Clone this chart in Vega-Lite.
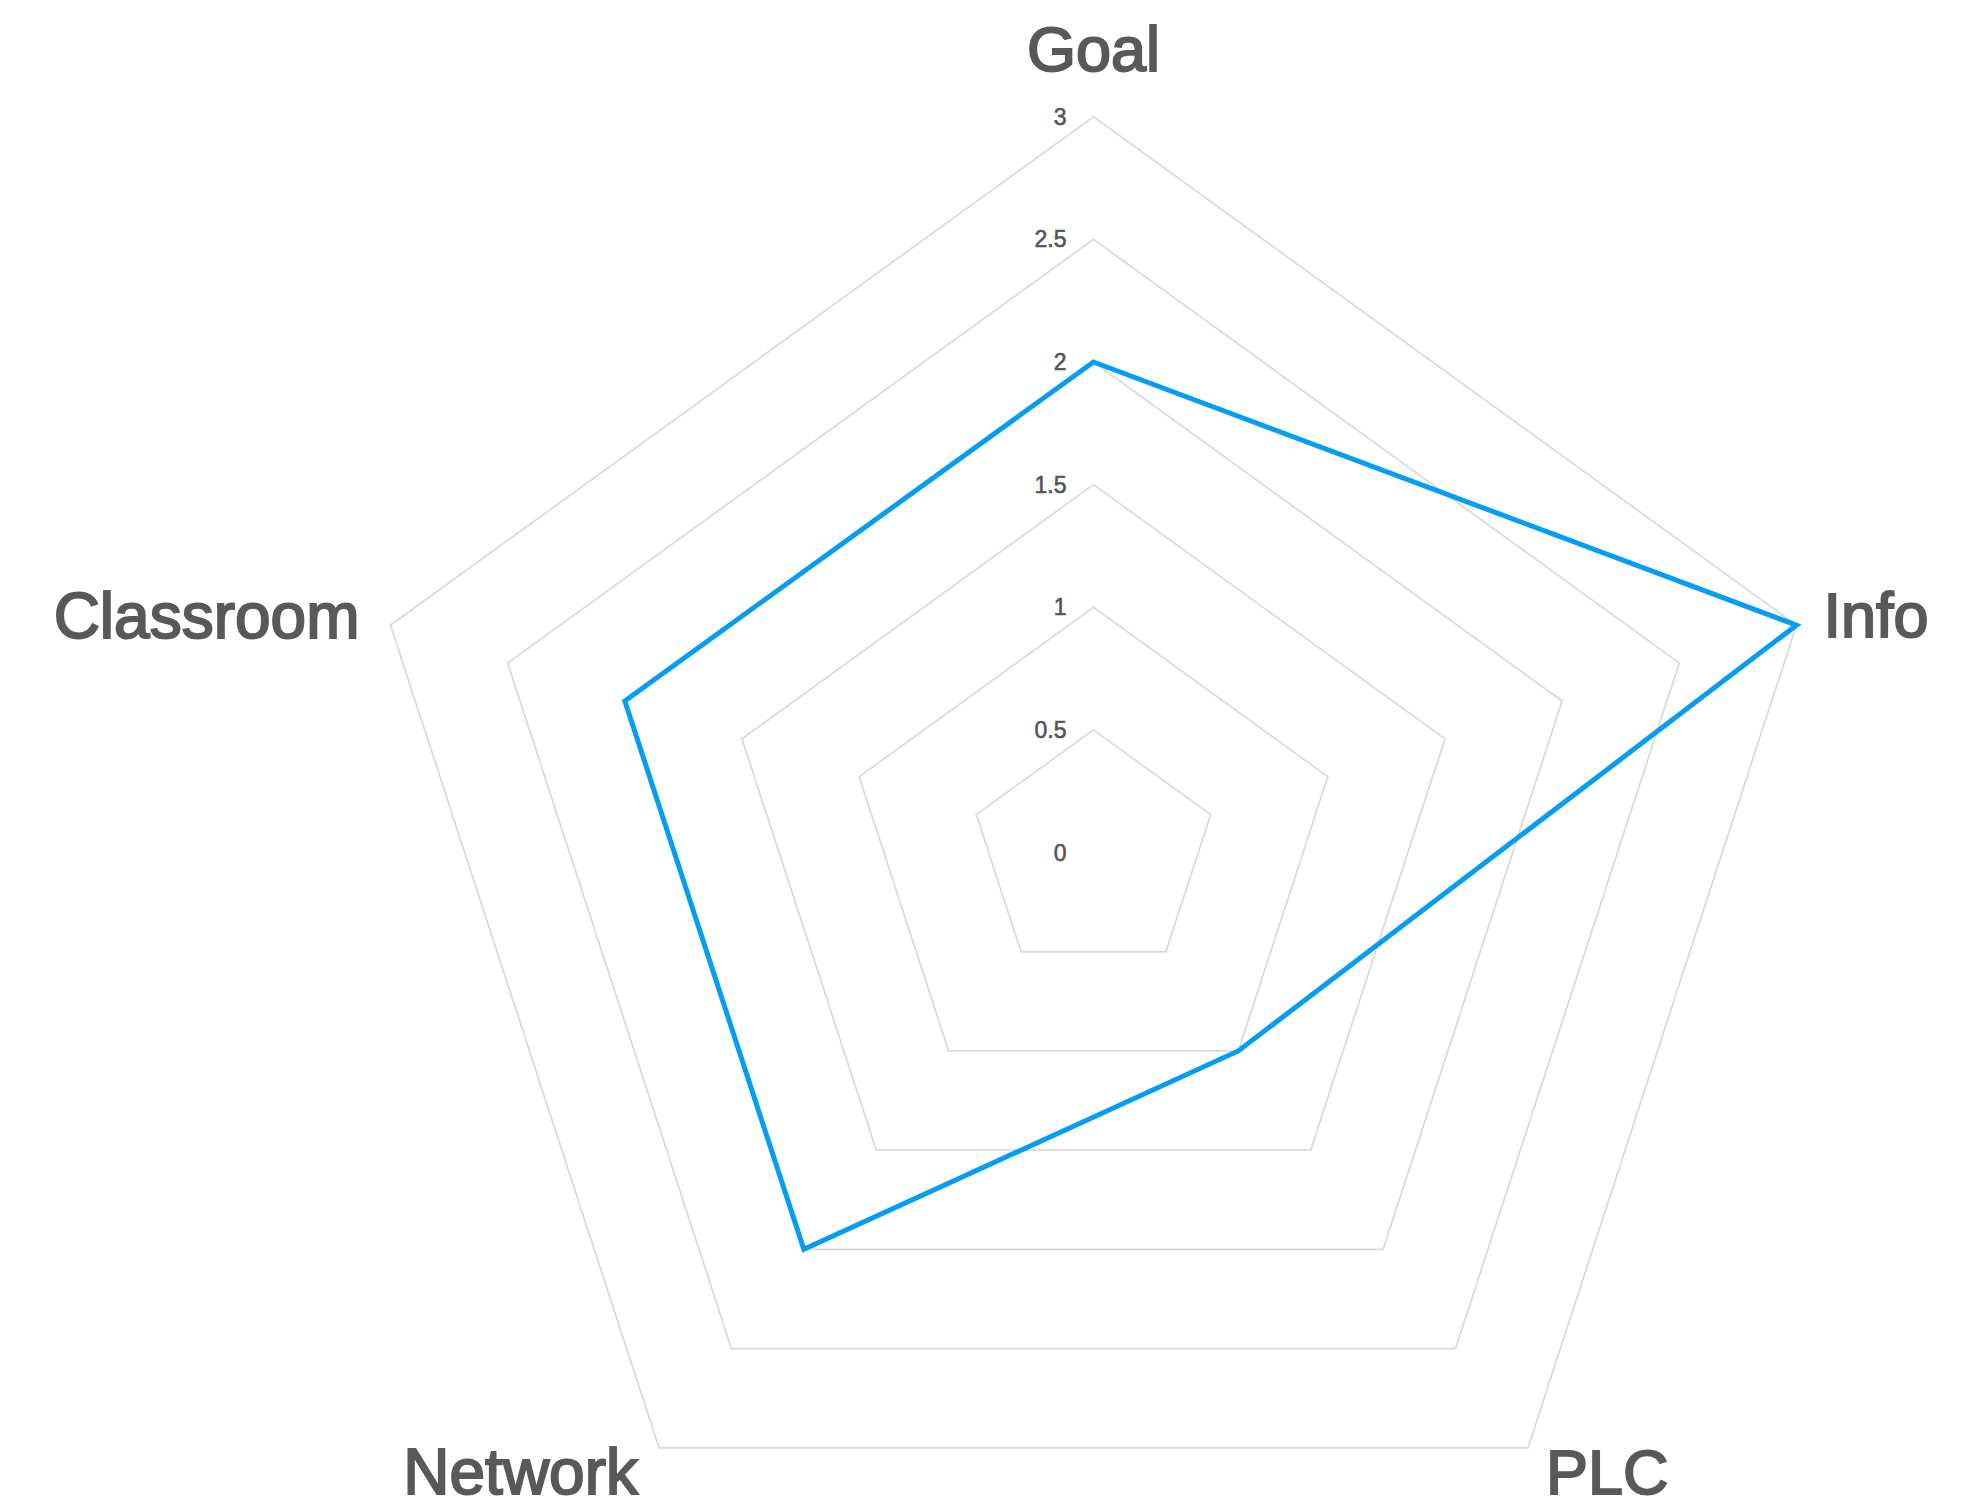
{
  "$schema": "https://vega.github.io/schema/vega-lite/v6.json",
  "width": 1962,
  "height": 1507,
  "autosize": {"type": "fit", "contains": "padding"},
  "padding": 0,
  "background": "white",
  "config": {"view": {"stroke": null}, "font": "Liberation Sans"},
  "datasets": {
    "scores": [
      {"axis": "Goal", "idx": 0, "value": 2},
      {"axis": "Info", "idx": 1, "value": 3},
      {"axis": "PLC", "idx": 2, "value": 1},
      {"axis": "Network", "idx": 3, "value": 2},
      {"axis": "Classroom", "idx": 4, "value": 2}
    ],
    "grid": [
      {"level": 0.5, "idx": 0}, {"level": 0.5, "idx": 1}, {"level": 0.5, "idx": 2}, {"level": 0.5, "idx": 3}, {"level": 0.5, "idx": 4},
      {"level": 1, "idx": 0}, {"level": 1, "idx": 1}, {"level": 1, "idx": 2}, {"level": 1, "idx": 3}, {"level": 1, "idx": 4},
      {"level": 1.5, "idx": 0}, {"level": 1.5, "idx": 1}, {"level": 1.5, "idx": 2}, {"level": 1.5, "idx": 3}, {"level": 1.5, "idx": 4},
      {"level": 2, "idx": 0}, {"level": 2, "idx": 1}, {"level": 2, "idx": 2}, {"level": 2, "idx": 3}, {"level": 2, "idx": 4},
      {"level": 2.5, "idx": 0}, {"level": 2.5, "idx": 1}, {"level": 2.5, "idx": 2}, {"level": 2.5, "idx": 3}, {"level": 2.5, "idx": 4},
      {"level": 3, "idx": 0}, {"level": 3, "idx": 1}, {"level": 3, "idx": 2}, {"level": 3, "idx": 3}, {"level": 3, "idx": 4}
    ],
    "ticks": [
      {"tick": 0, "label": "0"},
      {"tick": 0.5, "label": "0.5"},
      {"tick": 1, "label": "1"},
      {"tick": 1.5, "label": "1.5"},
      {"tick": 2, "label": "2"},
      {"tick": 2.5, "label": "2.5"},
      {"tick": 3, "label": "3"}
    ]
  },
  "encoding": {
    "x": {"field": "x", "type": "quantitative", "scale": {"domain": [-4.438, 3.525], "nice": false, "zero": false}, "axis": null},
    "y": {"field": "y", "type": "quantitative", "scale": {"domain": [-2.640, 3.476], "nice": false, "zero": false}, "axis": null}
  },
  "layer": [
    {
      "data": {"name": "grid"},
      "transform": [
        {"calculate": "datum.level * sin(datum.idx * 2 * PI / 5)", "as": "x"},
        {"calculate": "datum.level * cos(datum.idx * 2 * PI / 5)", "as": "y"}
      ],
      "mark": {"type": "line", "interpolate": "linear-closed", "stroke": "#dadada", "strokeWidth": 1.8},
      "encoding": {
        "detail": {"field": "level", "type": "nominal"},
        "order": {"field": "idx", "type": "quantitative"}
      }
    },
    {
      "data": {"name": "ticks"},
      "transform": [
        {"calculate": "0", "as": "x"},
        {"calculate": "datum.tick", "as": "y"}
      ],
      "mark": {"type": "text", "align": "right", "baseline": "middle", "dx": -27, "dy": 1, "fontSize": 23, "color": "#555555", "stroke": "#555555", "strokeWidth": 0.6},
      "encoding": {"text": {"field": "label", "type": "nominal"}}
    },
    {
      "data": {"name": "scores"},
      "transform": [
        {"calculate": "datum.value * sin(datum.idx * 2 * PI / 5)", "as": "x"},
        {"calculate": "datum.value * cos(datum.idx * 2 * PI / 5)", "as": "y"}
      ],
      "mark": {"type": "line", "interpolate": "linear-closed", "stroke": "#049df5", "strokeWidth": 5, "strokeJoin": "miter"},
      "encoding": {
        "order": {"field": "idx", "type": "quantitative"}
      }
    },
    {
      "data": {"name": "scores"},
      "transform": [
        {"filter": "datum.axis == 'Goal'"},
        {"calculate": "3 * sin(datum.idx * 2 * PI / 5)", "as": "x"},
        {"calculate": "3 * cos(datum.idx * 2 * PI / 5)", "as": "y"}
      ],
      "mark": {"type": "text", "align": "center", "baseline": "alphabetic", "dy": -46, "fontSize": 63, "color": "#595959", "stroke": "#595959", "strokeWidth": 2},
      "encoding": {"text": {"field": "axis", "type": "nominal"}}
    },
    {
      "data": {"name": "scores"},
      "transform": [
        {"filter": "datum.axis == 'Info'"},
        {"calculate": "3 * sin(datum.idx * 2 * PI / 5)", "as": "x"},
        {"calculate": "3 * cos(datum.idx * 2 * PI / 5)", "as": "y"}
      ],
      "mark": {"type": "text", "align": "left", "baseline": "alphabetic", "dx": 27, "dy": 12, "fontSize": 63, "color": "#595959", "stroke": "#595959", "strokeWidth": 2},
      "encoding": {"text": {"field": "axis", "type": "nominal"}}
    },
    {
      "data": {"name": "scores"},
      "transform": [
        {"filter": "datum.axis == 'Classroom'"},
        {"calculate": "3 * sin(datum.idx * 2 * PI / 5)", "as": "x"},
        {"calculate": "3 * cos(datum.idx * 2 * PI / 5)", "as": "y"}
      ],
      "mark": {"type": "text", "align": "right", "baseline": "alphabetic", "dx": -31, "dy": 13, "fontSize": 64, "color": "#595959", "stroke": "#595959", "strokeWidth": 2},
      "encoding": {"text": {"field": "axis", "type": "nominal"}}
    },
    {
      "data": {"name": "scores"},
      "transform": [
        {"filter": "datum.axis == 'Network'"},
        {"calculate": "3 * sin(datum.idx * 2 * PI / 5)", "as": "x"},
        {"calculate": "3 * cos(datum.idx * 2 * PI / 5)", "as": "y"}
      ],
      "mark": {"type": "text", "align": "right", "baseline": "alphabetic", "dx": -21, "dy": 46, "fontSize": 64, "color": "#595959", "stroke": "#595959", "strokeWidth": 2},
      "encoding": {"text": {"field": "axis", "type": "nominal"}}
    },
    {
      "data": {"name": "scores"},
      "transform": [
        {"filter": "datum.axis == 'PLC'"},
        {"calculate": "3 * sin(datum.idx * 2 * PI / 5)", "as": "x"},
        {"calculate": "3 * cos(datum.idx * 2 * PI / 5)", "as": "y"}
      ],
      "mark": {"type": "text", "align": "left", "baseline": "alphabetic", "dx": 18, "dy": 46, "fontSize": 63, "color": "#595959", "stroke": "#595959", "strokeWidth": 2},
      "encoding": {"text": {"field": "axis", "type": "nominal"}}
    }
  ]
}
